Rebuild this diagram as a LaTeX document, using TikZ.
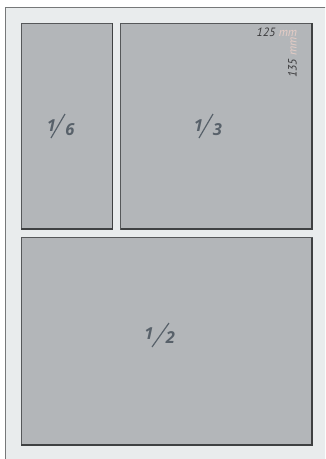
\documentclass[tikz,border=0pt]{standalone}
\usepackage{fontspec}
\setmainfont{PT Sans}
\newfontfamily\fracfont{Open Sans}
\definecolor{pagefill}{HTML}{E9ECED}
\definecolor{pageline}{HTML}{767879}
\definecolor{boxfill}{HTML}{B3B6B9}
\definecolor{boxline}{HTML}{56585A}
\definecolor{boxshadow}{HTML}{3F4142}
\definecolor{fraccol}{HTML}{58616A}
\definecolor{dimcol}{HTML}{3A3A3C}
\definecolor{unitcol}{HTML}{E6CDC6}
\tikzset{
  adbox/.style={fill=boxfill, draw=boxline, line width=0.9pt},
  adshadow/.style={draw=boxshadow, line width=1.6pt},
  fracdigit/.style={inner sep=0pt, text=fraccol, font=\fracfont\fontsize{16.5}{16.5}\selectfont\bfseries\itshape},
  fracslash/.style={draw=fraccol, line width=1.2pt},
  dimtext/.style={inner sep=0pt, text=dimcol, font=\fontsize{12}{12}\selectfont\itshape},
  unittext/.style={inner sep=0pt, text=unitcol, font=\fontsize{12}{12}\selectfont\itshape},
}
\begin{document}
\begin{tikzpicture}[x=1pt,y=-1pt]
\useasboundingbox (0,0) rectangle (325,459);
\fill[white] (0,0) rectangle (325,459);
% page
\begin{scope}
\clip (0,0) rectangle (325,459);
\draw[fill=pagefill, draw=pageline, line width=1.1pt] (5.5,7.5) rectangle (340,480);
\end{scope}
% boxes
\draw[adbox] (21,23) rectangle (112.5,229);
\draw[adshadow] (112.5,23) -- (112.5,229) -- (21,229);
\draw[adbox] (120.5,23) rectangle (312,229);
\draw[adshadow] (312,23) -- (312,229) -- (120.5,229);
\draw[adbox] (21,237.5) rectangle (312,445);
\draw[adshadow] (312,237.5) -- (312,445) -- (21,445);
% 1/6
\node[fracdigit] (n16) at (51.5,126) {1};
\node[fracdigit] (d16) at (70,130) {6};
\draw[fracslash] (51,138) -- (65,114);
% 1/3
\node[fracdigit] (n13) at (198.5,126) {1};
\node[fracdigit] (d13) at (217.5,130) {3};
\draw[fracslash] (199,138) -- (213,114);
% 1/2
\node[fracdigit] (n12) at (149,333.5) {1};
\node[fracdigit] (d12) at (170.5,338) {2};
\draw[fracslash] (152,347) -- (169,323);
% dimensions
\node[dimtext, anchor=base west] (w125) at (256.5,36) {125};
\node[unittext, anchor=base west] (wmm) at ([xshift=3pt]w125.base east) {mm};
\node[dimtext, anchor=base west, rotate=90] (h135) at (296.5,78) {135};
\node[unittext, anchor=base west, rotate=90] (hmm) at ([yshift=3pt]h135.base east) {mm};
\end{tikzpicture}
\end{document}
